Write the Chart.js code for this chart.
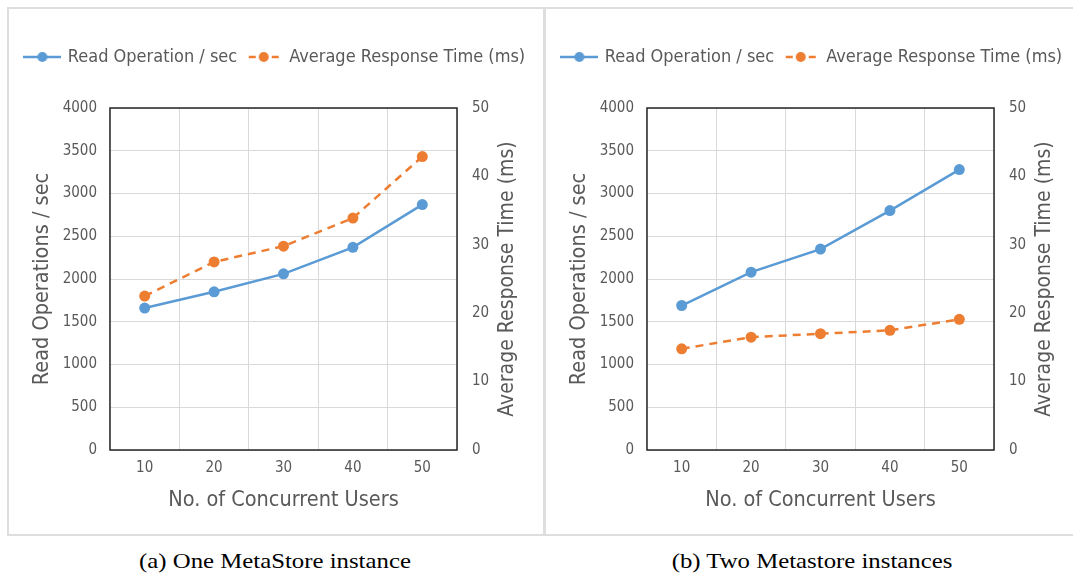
<!DOCTYPE html>
<html>
<head>
<meta charset="utf-8">
<script src="https://cdn.jsdelivr.net/npm/chart.js@4.4.0/dist/chart.umd.min.js"></script>
<style>
    body { margin: 0; background: #fff; width: 1073px; height: 573px; overflow: hidden; position: relative; }
    .panel { position: absolute; top: 7px; height: 529px; border: 2px solid #dedede; box-sizing: border-box; }
    .wrap { position: absolute; top: 8px; width: 535px; height: 527px; }
    .cap { position: absolute; top: 549px; width: 540px; text-align: center; font-family: 'Liberation Serif', serif; font-size: 21px; color: #000; transform: scaleX(1.18); transform-origin: center; }
</style>
</head>
<body>
<div class="panel" style="left:7px;width:538px"></div>
<div class="panel" style="left:544px;width:540px"></div>
<div class="wrap" style="left:8px"><canvas id="chartOne" width="535" height="527"></canvas></div>
<div class="wrap" style="left:545px"><canvas id="chartTwo" width="535" height="527"></canvas></div>
<div class="cap" style="left:5px">(a) One MetaStore instance</div>
<div class="cap" style="left:542px">(b) Two Metastore instances</div>

<script>
// x categories
const users = ['10', '20', '30', '40', '50'];

// (a) one metastore
const readOpsOne = [1660, 1850, 2060, 2370, 2870];
const respTimeOne = [22.5, 27.5, 29.8, 33.9, 42.9];

// (b) two metastores
const readOpsTwo = [1690, 2080, 2350, 2800, 3280];
const respTimeTwo = [14.8, 16.5, 17.0, 17.5, 19.1];

const FONT = "'DejaVu Sans Condensed', Lato, sans-serif";
const GREY = '#595959';
const BLUE = '#5B9BD5';
const ORANGE = '#ED7D31';

// little line+marker icon for the legend
function legendIcon(color, dashed) {
    const c = document.createElement('canvas');
    c.width = 38;
    c.height = 14;
    const g = c.getContext('2d');
    g.strokeStyle = color;
    g.fillStyle = color;
    g.lineWidth = 2.5;
    g.beginPath();
    if (dashed) {
        g.moveTo(4, 7); g.lineTo(11, 7);
        g.moveTo(27, 7); g.lineTo(34, 7);
    } else {
        g.moveTo(0, 7); g.lineTo(38, 7);
    }
    g.stroke();
    g.beginPath();
    g.arc(19, 7, 5, 0, Math.PI * 2);
    g.fill();
    return c;
}

const icons = [legendIcon(BLUE, false), legendIcon(ORANGE, true)];

// right axis title reads bottom-to-top, chart.js would flip it
const rightTitle = {
    id: 'rightTitle',
    afterDraw(chart) {
        const { ctx, chartArea } = chart;
        ctx.save();
        ctx.translate(500, (chartArea.top + chartArea.bottom) / 2);
        ctx.rotate(-Math.PI / 2);
        ctx.font = '21px ' + FONT;
        ctx.fillStyle = GREY;
        ctx.textAlign = 'center';
        ctx.textBaseline = 'middle';
        ctx.fillText('Average Response Time (ms)', 0, 0);
        ctx.restore();
    }
};

// dark frame round the plot area
const plotFrame = {
    id: 'plotFrame',
    beforeDatasetsDraw(chart) {
        const { ctx, chartArea: a } = chart;
        ctx.save();
        ctx.strokeStyle = '#262626';
        ctx.lineWidth = 1.5;
        ctx.strokeRect(a.left, a.top, a.right - a.left, a.bottom - a.top);
        ctx.restore();
    }
};

function makeChart(id, readOps, respTime) {
    return new Chart(document.getElementById(id), {
        type: 'line',
        data: {
            labels: users,
            datasets: [{
                label: 'Read Operation / sec',
                data: readOps,
                yAxisID: 'y',
                borderColor: BLUE,
                backgroundColor: BLUE,
                borderWidth: 2.5,
                pointRadius: 5.5,
                pointBorderWidth: 0,
                tension: 0
            }, {
                label: 'Average Response Time (ms)',
                data: respTime,
                yAxisID: 'y1',
                borderColor: ORANGE,
                backgroundColor: ORANGE,
                borderWidth: 2.5,
                borderDash: [8, 6],
                pointRadius: 5.5,
                pointBorderWidth: 0,
                tension: 0
            }]
        },
        options: {
            responsive: false,
            animation: false,
            layout: { padding: { top: 30, left: 0, right: 0, bottom: 0 } },
            plugins: {
                legend: {
                    position: 'top',
                    labels: {
                        usePointStyle: true,
                        pointStyleWidth: 33,
                        padding: 10,
                        color: GREY,
                        font: { size: 18, family: FONT },
                        generateLabels(chart) {
                            const items = Chart.defaults.plugins.legend.labels.generateLabels(chart);
                            items.forEach((it, i) => { it.pointStyle = icons[i]; });
                            return items;
                        }
                    }
                },
                // empty spacer between legend and plot
                title: { display: true, text: '', weight: 500, padding: { top: 0, bottom: 20 }, font: { size: 10 } },
                tooltip: { enabled: false }
            },
            scales: {
                x: {
                    offset: true,
                    grid: { offset: true, color: '#d9d9d9', drawTicks: false },
                    border: { display: false },
                    ticks: { color: GREY, font: { size: 15, family: FONT }, padding: 9 },
                    title: { display: true, text: 'No. of Concurrent Users', color: GREY, font: { size: 21.5, family: FONT }, padding: { top: 0, bottom: 22 } },
                    afterFit(s) { s.height = 85; }
                },
                y: {
                    position: 'left',
                    min: 0,
                    max: 4000,
                    grid: { color: '#d9d9d9', drawTicks: false },
                    border: { display: false },
                    ticks: { stepSize: 500, format: { useGrouping: false }, color: GREY, font: { size: 15, family: FONT }, padding: 13 },
                    title: { display: true, text: 'Read Operations / sec', color: GREY, font: { size: 21.5, family: FONT }, padding: { top: 22, bottom: 0 } },
                    afterFit(s) { s.width = 102; }
                },
                y1: {
                    position: 'right',
                    min: 0,
                    max: 50,
                    grid: { drawOnChartArea: false, drawTicks: false },
                    border: { display: false },
                    ticks: { stepSize: 10, color: GREY, font: { size: 15, family: FONT }, padding: 15 },
                    afterFit(s) { s.width = 86; }
                }
            }
        },
        plugins: [plotFrame, rightTitle]
    });
}

makeChart('chartOne', readOpsOne, respTimeOne);
makeChart('chartTwo', readOpsTwo, respTimeTwo);
</script>
</body>
</html>
